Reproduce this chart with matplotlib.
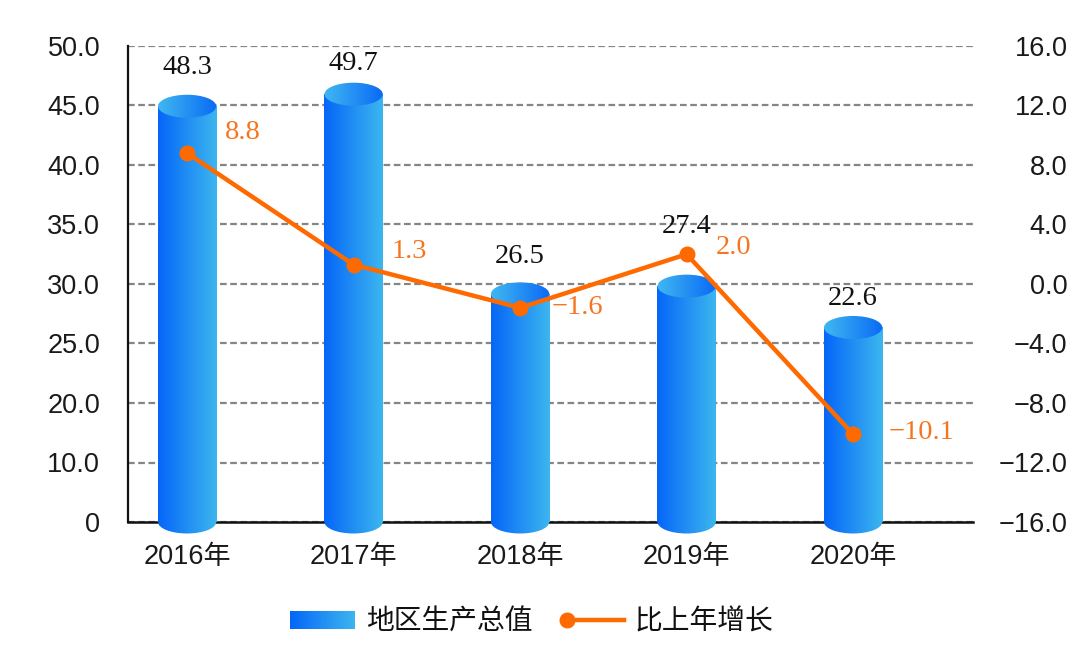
import numpy as np
import matplotlib
matplotlib.use('Agg')
import matplotlib.pyplot as plt
from matplotlib.colors import LinearSegmentedColormap
from matplotlib.patches import Ellipse
from matplotlib.lines import Line2D

# ---------------- data ----------------
years = ['2016年', '2017年', '2018年', '2019年', '2020年']
gdp = [48.3, 49.7, 26.5, 27.4, 22.6]
growth = [8.8, 1.3, -1.6, 2.0, -10.1]
gdp_labels = ['48.3', '49.7', '26.5', '27.4', '22.6']
growth_labels = ['8.8', '1.3', '−1.6', '2.0', '−10.1']
left_tick_labels = ['0', '10.0', '20.0', '25.0', '30.0', '35.0', '40.0', '45.0', '50.0']
right_ticks = [-16, -12, -8, -4, 0, 4, 8, 12, 16]
right_tick_labels = ['−16.0', '−12.0', '−8.0', '−4.0', '0.0', '4.0', '8.0', '12.0', '16.0']
legend_names = ['地区生产总值', '比上年增长']

# ---------------- layout / style ----------------
plt.rcParams['font.family'] = ['Liberation Sans', 'Noto Sans CJK SC', 'DejaVu Sans']
W, H = 1086, 649
ORANGE = '#ff6a00'
LABEL_ORANGE = '#f7741f'
cmap_body = LinearSegmentedColormap.from_list('body', ['#0566f8', '#3cb6ef'])
cmap_top = LinearSegmentedColormap.from_list('top', ['#40b8f0', '#0a6af6'])
grad = np.linspace(0, 1, 256).reshape(1, -1)

gdp_label_offsets = [39, 31, 37, 60, 29]                     # pixels above bar top
growth_label_offsets = [(38, 21), (38, 13), (32, 0), (29, 7), (36, 2)]

fig = plt.figure(figsize=(W / 100, H / 100), dpi=100)
ax = fig.add_axes([128 / W, 1 - 522 / H, (973 - 128) / W, (522 - 46) / H])

YMAX = 55.3
x = np.arange(len(years))
bw = 0.35
px_per_unit = (522 - 46) / YMAX
eh = 23 / px_per_unit   # ellipse height in data units

bars = ax.bar(x, gdp, width=bw, color='none', edgecolor='none', zorder=3)
for xi, b in zip(x, bars):
    h = b.get_height()
    x0, x1 = xi - bw / 2, xi + bw / 2
    # bottom cap
    bot = Ellipse((xi, 0), bw, eh, transform=ax.transData, facecolor='none', edgecolor='none')
    ax.add_patch(bot)
    im = ax.imshow(grad, cmap=cmap_body, extent=(x0, x1, -eh, eh), aspect='auto',
                   zorder=3, interpolation='bilinear')
    im.set_clip_path(bot)
    im.set_clip_box(fig.bbox)
    # body
    im = ax.imshow(grad, cmap=cmap_body, extent=(x0, x1, 0, h), aspect='auto',
                   zorder=3.1, interpolation='bilinear')
    im.set_clip_path(b)
    # top cap
    top = Ellipse((xi, h), bw, eh, transform=ax.transData, facecolor='none', edgecolor='none')
    ax.add_patch(top)
    im = ax.imshow(grad, cmap=cmap_top, extent=(x0, x1, h - eh, h + eh), aspect='auto',
                   zorder=3.2, interpolation='bilinear')
    im.set_clip_path(top)

for xi, v, lbl, off in zip(x, gdp, gdp_labels, gdp_label_offsets):
    ax.annotate(lbl, (xi, v), xytext=(0, off), textcoords='offset pixels',
                ha='center', va='center', fontsize=20.5, color='#111111',
                fontfamily='Liberation Serif', zorder=6)

ax.set_xlim(-0.355, 4.72)
ax.set_ylim(0, YMAX)
ax.set_yticks(np.linspace(0, YMAX, len(left_tick_labels)))
ax.set_yticklabels(left_tick_labels)
ax.set_xticks(x)
ax.set_xticklabels(years)
ax.tick_params(axis='y', length=0, pad=20, labelsize=19.5, labelcolor='#1a1a1a')
ax.tick_params(axis='x', length=0, pad=16, labelsize=19.5, labelcolor='#1a1a1a')
ax.set_axisbelow(True)
ax.yaxis.grid(True, color='#858585', linestyle=(0, (3, 1.6)), linewidth=1.6)
for s in ['top', 'right']:
    ax.spines[s].set_visible(False)
ax.spines['left'].set_linewidth(1.6)
ax.spines['left'].set_color('#111111')
ax.spines['bottom'].set_linewidth(1.8)
ax.spines['bottom'].set_color('#111111')
ax.spines['bottom'].set_zorder(2.5)

# ---------------- line on right axis ----------------
ax2 = ax.twinx()
ax2.plot(x, growth, color=ORANGE, lw=3.2, marker='o', ms=10.5, zorder=5)
ax2.set_ylim(-16, 16)
ax2.set_yticks(right_ticks)
ax2.set_yticklabels(right_tick_labels)
ax2.tick_params(axis='y', length=0, pad=68, labelsize=19.5, labelcolor='#1a1a1a')
for t in ax2.get_yticklabels():
    t.set_horizontalalignment('right')
for s in ax2.spines.values():
    s.set_visible(False)
for xi, g, lbl, (dx, dy) in zip(x, growth, growth_labels, growth_label_offsets):
    ax2.annotate(lbl, (xi, g), xytext=(dx, dy), textcoords='offset pixels',
                 ha='left', va='center', fontsize=20.5, color=LABEL_ORANGE,
                 fontfamily='Liberation Serif', zorder=6)
ax2.set_xlim(-0.355, 4.72)

# ---------------- legend ----------------
lax = fig.add_axes([290 / W, 1 - 629 / H, 65 / W, 18 / H])
lax.imshow(grad, cmap=cmap_body, aspect='auto', interpolation='bilinear')
lax.axis('off')
fig.text(366 / W, 1 - 622 / H, legend_names[0], ha='left', va='center', fontsize=20,
         color='#111111', fontfamily=['Noto Sans CJK SC', 'DejaVu Sans'])
fig.add_artist(Line2D([567 / W, 624 / W], [1 - 620 / H] * 2, color=ORANGE, lw=3.2,
                      transform=fig.transFigure))
fig.add_artist(Line2D([567 / W], [1 - 620 / H], color=ORANGE, marker='o', ms=10.5,
                      lw=0, transform=fig.transFigure))
fig.text(635 / W, 1 - 622 / H, legend_names[1], ha='left', va='center', fontsize=20,
         color='#111111', fontfamily=['Noto Sans CJK SC', 'DejaVu Sans'])

fig.savefig('out.png', dpi=100)
